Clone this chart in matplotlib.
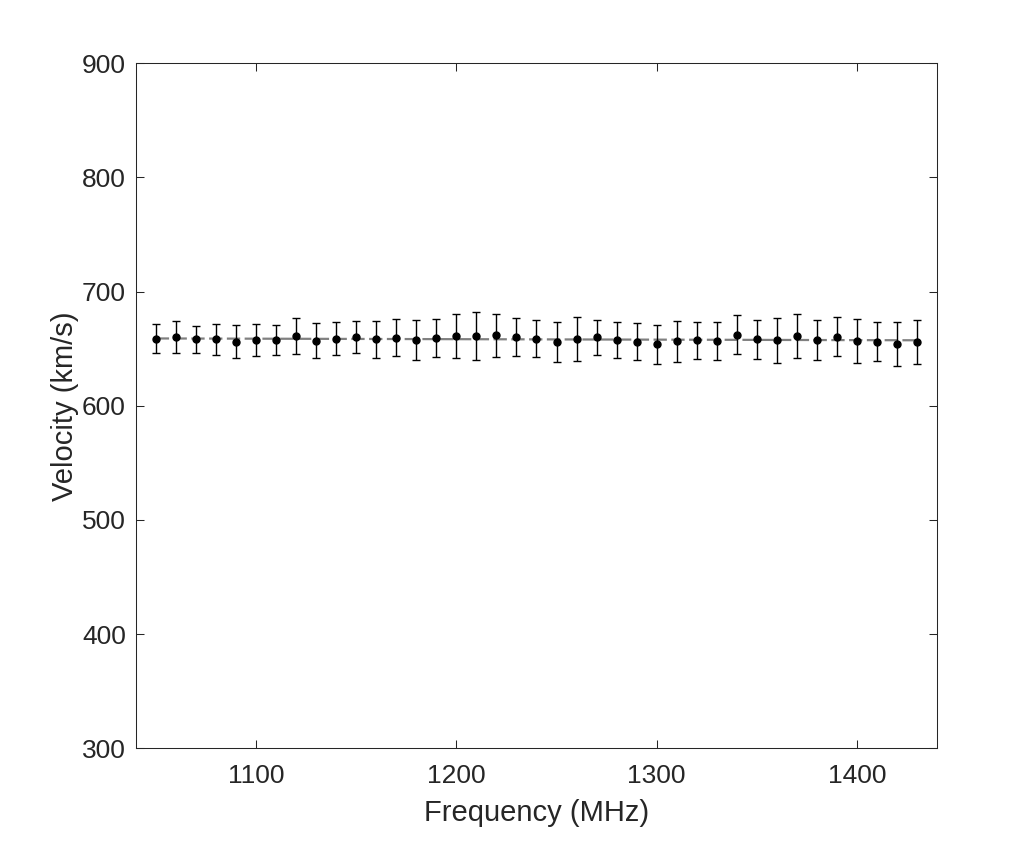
import numpy as np
import matplotlib
matplotlib.use('Agg')
import matplotlib.pyplot as plt

plt.rcParams['font.family'] = ['Liberation Sans', 'DejaVu Sans']

freq = np.arange(1050, 1431, 10)
velocity = [658.9, 660.3, 658.2, 658.2, 656.2, 657.6, 657.6, 661.1, 657.1, 658.9,
            660.0, 658.2, 659.7, 657.6, 659.1, 661.1, 661.1, 661.8, 660.3, 658.9,
            655.9, 658.6, 660.0, 657.6, 656.2, 653.9, 656.5, 657.4, 656.8, 662.4,
            658.2, 657.4, 660.9, 657.6, 660.6, 656.8, 656.2, 654.1, 655.9]
error = [12.7, 14.0, 11.7, 13.3, 14.2, 14.2, 12.9, 15.9, 15.0, 14.5,
         14.0, 15.9, 16.3, 17.8, 16.5, 19.6, 21.3, 18.7, 16.9, 16.5,
         17.4, 19.1, 15.5, 15.6, 16.5, 17.0, 18.1, 16.1, 16.9, 17.1,
         17.0, 19.6, 19.1, 17.4, 16.8, 19.6, 16.9, 19.6, 19.6]
fit_freq = [1050, 1430]
fit_velocity = [659.0, 657.4]

text_color = '#262626'

fig = plt.figure(figsize=(10.36, 8.42), dpi=100)
ax = fig.add_axes([0.131, 0.1113, 0.7737, 0.8135])

ax.plot(fit_freq, fit_velocity, color='#808080', linewidth=1.6,
        linestyle=(0, (6, 2)), zorder=1)
ax.errorbar(freq, velocity, yerr=error, fmt='o', color='black', markersize=5,
            ecolor='black', elinewidth=1, capsize=3.2, capthick=1, zorder=2)

ax.set_xlim(1040, 1440)
ax.set_ylim(300, 900)
ax.set_xticks([1100, 1200, 1300, 1400])
ax.set_yticks(range(300, 901, 100))

ax.tick_params(direction='in', length=6, width=0.75, top=True, right=True,
               labelsize=19, colors=text_color)
ax.tick_params(axis='x', pad=11)
ax.tick_params(axis='y', pad=7)
for s in ax.spines.values():
    s.set_linewidth(0.75)
    s.set_color(text_color)

ax.set_xlabel('Frequency (MHz)', fontsize=21, color=text_color, labelpad=8.5)
ax.set_ylabel('Velocity (km/s)', fontsize=21, color=text_color, labelpad=2)

fig.savefig('out.png', dpi=100)
